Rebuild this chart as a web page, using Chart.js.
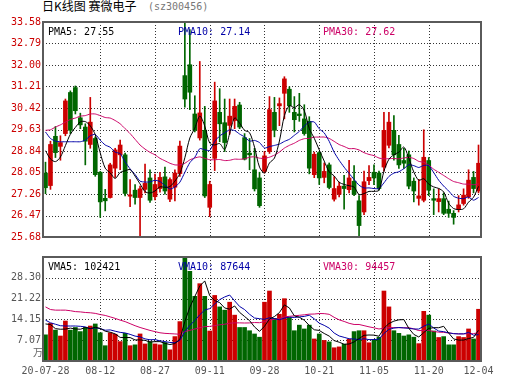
<!DOCTYPE html>
<html>
<head>
<meta charset="utf-8">
<script src="https://cdn.jsdelivr.net/npm/chart.js@4.4.1/dist/chart.umd.min.js"></script>
<style>
  body { margin: 0; background: #fff; width: 530px; height: 391px; position: relative; overflow: hidden; }
  #title { position: absolute; left: 42px; top: -1px; font: 12px/14px "Noto Sans CJK SC", sans-serif; color: #000; white-space: pre; }
  #code { position: absolute; left: 148px; top: 0px; font: 10px/14px "DejaVu Sans Mono", monospace; color: #777; }
  #price { position: absolute; left: 0; top: 0; }
  #volume { position: absolute; left: 0; top: 245px; }
</style>
</head>
<body>
<div id="title">日K线图 赛微电子</div>
<div id="code">(sz300456)</div>
<canvas id="price" width="530" height="245"></canvas>
<canvas id="volume" width="530" height="146"></canvas>
<script>
// trading days 2020-07-28 .. 2020-12-04
const dates = ["07-28","07-29","07-30","07-31","08-03","08-04","08-05","08-06","08-07","08-10",
  "08-11","08-12","08-13","08-14","08-17","08-18","08-19","08-20","08-21","08-24",
  "08-25","08-26","08-27","08-28","08-31","09-01","09-02","09-03","09-04","09-07",
  "09-08","09-09","09-10","09-11","09-14","09-15","09-16","09-17","09-18","09-21",
  "09-22","09-23","09-24","09-25","09-28","09-29","09-30","10-09","10-12","10-13",
  "10-14","10-15","10-16","10-19","10-20","10-21","10-22","10-23","10-26","10-27",
  "10-28","10-29","10-30","11-02","11-03","11-04","11-05","11-06","11-09","11-10",
  "11-11","11-12","11-13","11-16","11-17","11-18","11-19","11-20","11-23","11-24",
  "11-25","11-26","11-27","11-30","12-01","12-02","12-03","12-04"];

const opens = [28.03,27.57,29.38,29.01,29.48,30.99,31.17,30.06,29.72,29.08,
  29.30,28.06,27.10,27.13,28.21,28.70,28.70,27.18,27.40,27.13,
  27.43,27.85,27.16,27.46,27.89,27.07,27.51,28.01,31.61,32.01,
  30.20,29.32,29.60,26.77,28.57,30.26,29.88,29.78,29.96,30.53,
  29.33,28.76,28.15,27.85,28.09,28.82,30.26,30.50,30.96,31.11,
  30.26,30.20,30.02,29.93,27.97,28.78,27.87,28.33,27.07,27.25,
  27.55,27.42,27.73,27.01,26.60,27.75,28.06,28.03,28.25,29.05,
  29.60,29.08,28.49,28.70,27.73,27.10,27.03,28.49,27.09,26.98,
  27.09,26.70,26.55,26.70,26.91,27.16,27.87,27.37];

const highs = [28.43,29.20,29.74,29.40,30.75,31.05,31.23,30.23,29.84,30.81,
  29.36,28.09,27.43,28.39,28.94,29.24,28.76,27.79,27.61,27.55,
  28.36,28.15,27.99,28.06,28.25,27.85,28.15,29.20,33.58,33.30,
  30.87,32.13,30.48,27.73,31.37,31.13,30.75,30.75,30.75,30.63,
  29.48,29.30,28.94,28.06,28.82,30.84,30.81,30.79,31.57,31.20,
  30.84,30.96,30.54,30.10,28.80,28.82,28.40,28.40,27.90,27.70,
  27.95,28.50,28.30,27.20,28.10,28.30,28.33,28.10,30.26,30.26,
  30.14,29.42,28.94,28.84,27.85,27.80,29.62,28.60,27.45,27.45,
  27.30,27.00,26.65,27.20,27.45,28.15,28.09,29.06];

const lows = [27.27,27.43,28.60,28.50,29.40,29.48,30.20,29.66,28.33,28.94,
  27.91,26.40,26.64,27.11,27.87,28.15,27.19,26.79,26.89,25.68,
  27.30,26.95,27.04,27.33,27.25,26.98,27.01,27.91,30.45,30.36,
  29.54,29.24,27.13,26.43,28.12,29.18,28.82,29.46,29.66,29.66,
  28.51,28.15,27.37,26.77,28.03,28.75,29.36,29.77,30.02,30.26,
  29.54,29.93,29.42,28.00,27.86,27.61,27.67,27.45,27.00,27.15,
  26.70,27.30,27.20,25.68,26.50,27.60,27.60,27.40,28.10,28.95,
  28.50,28.20,28.20,27.45,26.97,26.85,26.97,27.20,26.50,26.60,
  26.50,26.40,26.15,26.60,26.85,27.10,27.30,27.30];

const closes = [27.49,29.08,28.78,29.15,30.68,29.60,30.32,29.80,29.20,29.90,
  27.97,26.97,27.01,28.33,28.88,29.06,27.28,27.23,27.13,27.45,
  27.65,27.03,27.61,27.87,27.37,27.79,28.03,29.02,30.75,31.00,
  29.60,30.24,27.19,27.61,30.68,29.84,29.15,30.12,30.48,29.72,
  28.54,28.70,27.45,26.83,28.66,30.36,29.60,30.58,31.49,30.50,
  29.99,30.14,29.48,28.21,28.72,27.85,28.09,27.50,27.46,27.55,
  27.46,27.85,27.25,26.10,27.71,27.87,27.85,27.46,29.60,29.90,
  28.70,28.33,28.39,27.55,27.37,27.19,28.61,27.40,27.03,27.09,
  26.55,26.55,26.40,26.86,27.22,27.77,27.46,28.39];

// volume in 万
const volumes = [8.9,12.8,10.5,8.5,13.6,10.5,11.4,10.0,11.4,11.9,
  12.6,9.6,5.2,9.6,9.1,6.6,9.4,5.2,5.5,9.2,
  5.8,6.6,5.8,5.5,6.3,3.8,8.3,13.4,35.37,30.5,
  22.0,26.3,22.0,10.2,22.3,18.4,17.3,20.0,15.6,11.4,
  11.4,10.3,9.2,8.1,20.0,23.8,14.5,15.9,21.2,14.8,
  10.3,12.2,10.9,12.2,7.5,9.2,7.0,6.5,4.5,4.8,
  5.7,7.4,10.0,10.3,10.3,6.2,7.2,8.1,23.8,18.4,
  10.3,9.4,8.5,8.9,8.1,5.9,16.9,15.6,10.2,8.0,
  8.3,5.5,5.5,8.3,8.0,10.9,7.5,17.6];

// averages at the left edge (window reaches before the first day)
const pma5Lead = [28.85,28.55,28.45,28.62];
const pma10Lead = [29.54,29.30,29.20,29.18,29.18,29.18,29.18,29.18,29.24];
const pma30Lead = [29.60,29.62,29.72,29.80,29.90,30.00,30.05,30.12,30.14,30.20,
  30.20,30.14,30.07,30.05,29.96,29.84,29.66,29.48,29.27,29.06,
  28.91,28.79,28.70,28.57,28.48,28.39,28.33,28.33,28.39];
const vma5Lead = [12.6,12.4,11.0,10.8];
const vma10Lead = [13.9,13.0,12.5,12.0,11.9,11.9,11.9,11.8,11.6];
const vma30Lead = [18.4,17.5,17.3,17.3,17.3,17.1,16.8,16.7,16.5,16.4,
  16.2,15.8,15.5,15.0,14.5,13.9,13.4,12.7,12.0,11.4,
  10.9,10.4,10.0,9.6,9.4,9.3,9.2,9.1,10.0];

const priceTicks = [25.68,26.47,27.26,28.05,28.84,29.63,30.42,31.21,32.00,32.79,33.58];
const volumeTicks = [0,7.07,14.15,21.22,28.30,35.37];

const priceLegend = ["PMA5: 27.55", "PMA10: 27.14", "PMA30: 27.62"];
const volumeLegend = ["VMA5: 102421", "VMA10: 87644", "VMA30: 94457"];

const RED = "#cc0000";
const GREEN = "#006600";
const BLUE = "#0000a8";
const PINK = "#cc0066";
const legendColors = ["#000000", BLUE, PINK];
const legendX = [48, 178, 323];
const mono = { family: '"DejaVu Sans Mono", monospace', size: 10 };

function movingAverage(values, n, lead) {
  return values.map((v, i) => {
    if (i < n - 1) return lead[i];
    let sum = 0;
    for (let k = i - n + 1; k <= i; k++) sum += values[k];
    return sum / n;
  });
}

const barColors = closes.map((c, i) => c >= opens[i] ? RED : GREEN);

// dotted grid under the marks, grey frame and the MA readouts on top
function decor(gridValues, legend, legendY, extra) {
  return {
    id: "decor",
    beforeDatasetsDraw(chart) {
      const { ctx, chartArea: a, scales: { x, y } } = chart;
      ctx.save();
      ctx.strokeStyle = "#333";
      ctx.lineWidth = 1;
      ctx.setLineDash([1, 2]);
      ctx.beginPath();
      gridValues.forEach(v => {
        const py = Math.round(y.getPixelForValue(v)) + 0.5;
        ctx.moveTo(a.left, py);
        ctx.lineTo(a.right, py);
      });
      for (let i = 11; i < dates.length; i += 11) {
        const px = Math.round(x.getPixelForValue(i)) + 0.5;
        ctx.moveTo(px, a.top);
        ctx.lineTo(px, a.bottom);
      }
      ctx.stroke();
      ctx.restore();
    },
    afterDatasetsDraw(chart) {
      const { ctx, chartArea: a } = chart;
      ctx.save();
      ctx.strokeStyle = "#5a5a5a";
      ctx.lineWidth = 2;
      ctx.strokeRect(a.left, a.top, a.right - a.left, a.bottom - a.top);
      ctx.font = '10px "DejaVu Sans Mono", monospace';
      ctx.textBaseline = "middle";
      legend.forEach((t, i) => {
        ctx.fillStyle = legendColors[i];
        ctx.fillText(t, legendX[i], legendY);
      });
      if (extra) extra(ctx, a);
      ctx.restore();
    }
  };
}

function line(data, color, tension) {
  return { type: "line", data, borderColor: color, borderWidth: 1, pointRadius: 0, tension, order: 0 };
}

new Chart(document.getElementById("price"), {
  type: "bar",
  data: {
    labels: dates,
    datasets: [
      line(movingAverage(closes, 5, pma5Lead), "#000000", 0.3),
      line(movingAverage(closes, 10, pma10Lead), BLUE, 0.2),
      line(movingAverage(closes, 30, pma30Lead), PINK, 0.2),
      {
        data: opens.map((o, i) => [o, closes[i]]),
        backgroundColor: barColors,
        barThickness: 4,
        minBarLength: 1,
        grouped: false,
        order: 1
      },
      {
        data: lows.map((l, i) => [l, highs[i]]),
        backgroundColor: barColors,
        barThickness: 1,
        grouped: false,
        order: 2
      }
    ]
  },
  options: {
    responsive: false,
    animation: false,
    layout: { padding: { top: 22, right: 49, bottom: 5, left: 0 } },
    plugins: { legend: { display: false }, tooltip: { enabled: false } },
    scales: {
      x: { display: false, offset: true },
      y: {
        min: 25.68,
        max: 33.58,
        afterBuildTicks: s => { s.ticks = priceTicks.map(v => ({ value: v })); },
        afterFit: s => { s.width = 43; },
        grid: { display: false, drawTicks: false },
        border: { display: false },
        ticks: { color: RED, font: mono, padding: 2, callback: v => Number(v).toFixed(2) }
      }
    }
  },
  plugins: [decor(priceTicks.slice(1, -1), priceLegend, 32)]
});

new Chart(document.getElementById("volume"), {
  type: "bar",
  data: {
    labels: dates,
    datasets: [
      line(movingAverage(volumes, 5, vma5Lead), "#000000", 0),
      line(movingAverage(volumes, 10, vma10Lead), BLUE, 0),
      line(movingAverage(volumes, 30, vma30Lead), PINK, 0),
      {
        data: volumes,
        backgroundColor: barColors,
        barThickness: 4,
        order: 1
      }
    ]
  },
  options: {
    responsive: false,
    animation: false,
    layout: { padding: { top: 12, right: 49, bottom: 0, left: 0 } },
    plugins: { legend: { display: false }, tooltip: { enabled: false } },
    scales: {
      x: {
        offset: true,
        afterFit: s => { s.height = 30; },
        grid: { display: false, drawTicks: false },
        border: { display: false },
        ticks: {
          autoSkip: false,
          maxRotation: 0,
          minRotation: 0,
          padding: 4,
          color: "#555",
          font: mono,
          callback: (v, i) => {
            if (i === 0) return "20-" + dates[i];
            return (i % 11 === 0 || i === dates.length - 1) ? dates[i] : "";
          }
        }
      },
      y: {
        min: 0,
        max: 35.37,
        afterBuildTicks: s => { s.ticks = volumeTicks.map(v => ({ value: v })); },
        afterFit: s => { s.width = 43; },
        grid: { display: false, drawTicks: false },
        border: { display: false },
        ticks: {
          color: "#555",
          font: mono,
          padding: 2,
          callback: v => (v === 0 || v === 35.37) ? "" : Number(v).toFixed(2)
        }
      }
    }
  },
  plugins: [decor(volumeTicks.slice(1, -1), volumeLegend, 22, (ctx) => {
    ctx.fillStyle = "#666";
    ctx.font = '10px "Noto Sans CJK SC", sans-serif';
    ctx.textAlign = "center";
    ctx.fillText("万", 38, 107);
  })]
});
</script>
</body>
</html>
